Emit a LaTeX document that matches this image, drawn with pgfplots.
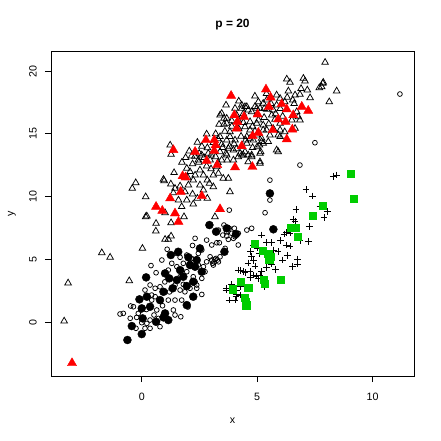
\documentclass[border=0pt]{standalone}
\usepackage{fontspec}
\setmainfont{Liberation Sans}
\usepackage{pgfplots}
\pgfplotsset{compat=1.18}
\definecolor{rgreen}{RGB}{0,205,0}
\begin{document}
\begin{tikzpicture}
\path[use as bounding box] (-51bp,-65bp) rectangle (390bp,376bp);
\begin{axis}[
  at={(0,0)}, anchor=south west,
  scale only axis, width=363bp, height=325bp,
  xmin=-3.93, xmax=11.79, ymin=-4.3, ymax=21.6,
  xtick={0,5,10}, ytick={0,5,10,15,20},
  tick align=outside, major tick length=6bp,
  xtick pos=left, ytick pos=left,
  axis line style={line width=0.75bp},
  every tick/.style={black, line width=0.75bp},
  /pgf/number format/assume math mode=true,
  tick label style={font=\fontsize{10.7}{12}\selectfont},
  xticklabel style={anchor=center, yshift=-14.5bp},
  yticklabel style={anchor=center, xshift=-12bp, rotate=90},
  xlabel={x}, ylabel={y},
  label style={font=\fontsize{10.7}{12}\selectfont},
  xlabel style={at={(axis description cs:0.5,-0.1385)}, anchor=center},
  ylabel style={at={(axis description cs:-0.1074,0.5)}, anchor=center},
  title={p = 20},
  every axis title shift=0pt,
  title style={at={(axis description cs:0.5,1.08)}, anchor=center, font=\bfseries\fontsize{12}{14}\selectfont},
  only marks,
]
% open triangles
\addplot[mark=triangle, mark size=3.8bp, mark options={black, line width=0.75bp}] coordinates {
(-3.36,0.08) (-3.19,3.11) (-1.73,5.52) (-1.37,5.16) (0.03,5.87) (-0.26,11.10) (-0.41,10.65) (0.17,9.98) (0.97,11.26) (0.17,8.39)
(0.61,7.25) (1.01,6.59) (1.15,6.59) (1.27,6.85) (1.37,10.30) (1.27,7.91) (1.01,8.71) (-0.54,3.29)
(3.65,17.29) (3.39,16.49) (3.46,16.63) (3.35,15.75) (3.56,15.75) (3.68,16.23) (3.90,16.04) (4.04,17.03) (4.11,16.49) (4.18,16.10)
(2.81,14.98) (2.41,14.32) (1.23,14.10) (1.27,13.36) (2.06,13.63) (2.49,13.44) (2.84,13.89) (2.88,13.44) (3.20,13.17) (3.46,14.16)
(3.68,13.31) (3.97,12.91) (1.74,12.73) (2.47,12.73) (3.39,13.57) (3.82,14.77) (4.04,14.50)
(7.94,20.69) (6.28,19.36) (6.42,19.10) (7.00,19.42) (7.07,19.20) (7.17,18.49) (7.69,18.67) (7.84,19.02) (8.44,18.41) (7.29,17.87)
(8.12,17.55) (6.35,18.41) (6.64,18.09) (6.85,18.14) (6.54,17.69) (5.99,17.82) (6.19,17.55) (5.84,18.09) (6.78,16.36) (6.85,16.10)
(6.71,16.76) (5.91,14.90) (5.99,15.30) (6.19,15.16) (6.64,15.43) (5.91,13.57)
(5.15,13.57) (5.00,13.97) (5.26,14.24) (5.19,14.64) (4.69,14.64) (4.55,14.24) (4.76,13.31) (4.40,13.31) (4.33,17.29) (4.55,17.16)
(4.90,17.16) (4.76,16.76) (5.05,17.55) (5.26,17.43) (5.41,17.69) (5.12,17.03) (5.84,17.29) (5.70,16.89) (4.69,15.96) (4.98,15.83)
(5.26,15.70) (5.99,15.83) (5.26,15.30) (5.55,14.90) (5.12,12.77) (4.61,12.77) (4.26,13.44)
(2.16,13.23) (2.45,12.91) (2.60,13.31) (2.96,12.91) (3.25,12.37) (3.46,12.91) (3.65,13.44) (3.75,13.84) (3.97,13.71) (4.18,13.17)
(4.33,13.31) (4.47,13.57) (4.61,13.31) (4.76,13.17) (5.12,13.44) (5.12,12.65) (4.98,14.90) (5.19,14.37) (5.48,14.37) (5.84,13.71)
(5.99,14.77) (5.05,16.10) (5.41,15.30) (5.63,16.49) (5.77,16.15) (4.47,15.56) (4.69,15.30) (4.55,14.77) (4.83,14.50) (3.39,14.77)
(3.82,15.16) (3.68,14.50) (3.56,16.23) (3.68,15.83) (4.33,17.03) (4.47,17.16) (4.61,16.89) (4.98,17.03) (5.41,16.95)
(1.95,12.25) (2.09,11.98) (2.31,11.71) (2.52,12.11) (2.67,11.71) (2.84,11.31) (3.10,11.71) (3.32,11.85) (2.81,12.43)
(0.94,11.37) (1.26,11.00) (1.44,10.65) (1.66,10.84) (1.87,10.38) (2.02,10.92) (2.23,11.31) (2.52,10.92) (2.67,10.52) (2.93,11.05)
(3.10,10.78) (3.53,11.45) (3.75,11.45) (3.82,10.38) (1.59,9.72) (1.73,9.19) (1.95,9.72) (2.23,9.40) (2.41,9.86) (2.84,9.86)
(1.83,8.39) (0.22,8.45) (0.62,7.86) (3.17,8.39)
(4.2,15.4) (4.4,15.9) (3.9,15.6) (4.9,15.2) (5.3,16.3) (5.0,16.6) (4.3,14.8) (3.6,15.2) (3.1,14.3) (3.3,14.6)
(3.2,15.0) (4.0,14.2) (4.8,13.9) (5.5,15.8) (5.7,15.4) (6.1,16.4) (6.0,17.0) (6.6,17.4) (3.7,12.9) (3.0,13.3)
(2.6,14.0) (2.2,12.6) (1.9,13.1) (5.4,18.2) (5.6,17.4) (4.9,18.0) (7.86,19.10) (7.79,18.75)
(3.8,14.0) (4.5,14.5) (4.1,13.8) (4.4,16.6) (3.5,13.9) (5.1,14.1) (5.3,17.0) (6.3,17.9) (6.9,18.6) (5.8,16.6)
(2.7,13.1) (3.3,12.7) (2.3,13.2) (4.8,15.6) (4.2,17.6) (6.5,16.1) (3.0,12.2) (2.2,10.2) (2.0,11.5) (1.4,11.9)
};
% open circles
\addplot[mark=o, mark size=2.4bp, mark options={black, line width=0.75bp}] coordinates {
(11.18,18.17) (7.50,14.29) (6.85,12.51) (5.55,11.31) (5.55,9.72) (5.34,8.71) (3.79,8.92) (4.01,7.47) (4.76,7.47) (4.55,7.33)
(3.56,7.73) (3.90,7.07) (3.51,6.93) (3.97,6.67) (3.75,6.59) (4.18,6.14) (3.61,5.87) (3.39,5.20) (3.32,7.33) (3.68,7.20)
(4.18,7.07) (4.04,6.80) (3.25,6.32) (3.03,4.94) (3.13,4.80) (3.22,5.07) (3.79,7.47) (3.03,6.14) (3.68,6.85)
(2.31,6.67) (2.96,5.20) (3.17,5.00) (3.07,4.68) (2.81,4.80) (3.32,4.80) (1.66,5.16) (0.62,3.93) (-0.48,1.28) (-0.94,0.64)
(-0.80,0.69) (-0.15,0.69) (-0.22,0.37) (0.00,-0.05) (0.22,-0.11) (0.36,-0.50) (0.36,0.16) (0.53,0.56) (0.72,0.29) (1.37,0.96)
(1.44,0.56) (1.69,0.42) (0.79,-0.37) (0.14,-0.50) (-0.25,-0.50) (-0.04,0.96) (0.43,1.75) (0.58,2.02) (0.65,0.96) (-0.36,1.22)
(0.87,4.94) (1.30,4.68) (1.52,4.41) (1.73,4.14) (1.95,4.01) (2.23,3.61) (1.66,3.61) (1.15,4.14) (1.44,2.95) (1.66,2.55)
(1.87,2.41) (2.09,2.69) (2.38,2.95) (0.58,2.69) (0.36,2.95) (0.14,2.55) (0.43,2.15) (0.79,2.81) (1.15,1.75) (1.44,1.75)
(1.73,1.75) (2.38,2.69) (2.31,3.21)
(1.95,5.34) (2.16,5.07) (2.45,5.47) (2.60,5.74) (1.52,5.47) (1.80,4.68) (2.09,4.68) (2.45,4.54) (2.67,4.41) (2.74,4.01)
(2.60,3.48) (2.81,6.53) (3.36,6.32) (3.27,4.94) (3.10,4.54)
(1.0,3.2) (1.2,2.4) (0.9,1.3) (1.8,3.0) (2.0,1.2) (2.6,2.2) (0.2,1.0) (-0.5,0.3) (1.1,5.8) (2.2,6.1) (0.4,4.5)
};
% plus
\addplot[mark=+, mark size=3.4bp, mark options={black, line width=0.75bp}] coordinates {
(8.29,11.63) (8.44,11.71) (7.11,10.57) (7.40,10.04) (7.72,9.24) (8.03,8.79) (7.89,8.34) (6.68,8.98) (6.56,8.18) (6.64,7.99)
(7.25,7.59) (6.16,7.01) (6.02,6.48) (5.19,6.93) (5.63,6.32) (5.41,6.32) (6.28,6.14) (6.42,6.06) (6.85,6.53) (7.21,6.40)
(4.83,6.14) (5.70,5.74) (5.09,5.47) (4.76,5.20) (4.83,4.89) (6.10,4.94) (6.75,5.02) (6.54,4.41) (5.63,4.62) (5.41,4.36)
(4.90,4.46) (5.19,4.01) (4.18,4.14) (4.47,3.93) (4.83,3.75) (5.05,3.48) (4.69,3.56) (3.65,2.55) (4.11,2.49) (4.26,2.81)
(4.29,2.15) (3.79,1.75) (4.04,1.75) (4.08,2.02) (5.12,3.75) (6.28,7.12) (6.42,7.09) (4.72,5.60) (4.29,4.09) (4.95,3.67)
(6.74,4.62) (4.11,2.23) (3.68,2.69) (4.40,4.01) (4.69,4.01)
(5.9,5.6) (6.3,5.3) (5.0,5.9) (5.8,4.2) (4.6,4.7) (5.3,2.8) (3.9,3.0)
};
% red filled triangles
\addplot[mark=triangle*, mark size=5.3bp, mark options={red, fill=red}] coordinates {
(-3.02,-3.27) (3.87,18.03) (5.38,18.54) (5.58,17.90) (5.51,17.16) (4.01,16.49) (4.43,16.36) (4.14,15.96) (5.02,16.55) (6.06,17.37)
(6.28,16.95) (6.56,16.49) (6.93,17.16) (7.21,16.84) (5.91,16.15) (6.23,15.96) (5.67,15.30) (6.52,15.35) (6.28,14.56) (5.05,15.09)
(4.80,14.82) (4.11,15.43) (4.33,14.02) (2.78,14.50) (3.14,14.50) (3.20,14.10) (3.14,13.65) (2.31,13.57) (1.37,13.71) (2.81,12.85)
(3.27,12.51) (4.04,12.33) (4.79,12.37) (1.77,11.63) (1.90,11.53) (1.69,10.38) (2.60,10.04) (1.23,9.86) (0.62,9.19) (0.89,8.87)
(1.44,8.66) (1.59,7.99) (3.39,9.00)
};
% black filled circles
\addplot[mark=*, mark size=4bp, mark options={black, fill=black}] coordinates {
(2.93,7.73) (3.22,7.20) (3.68,7.47) (4.08,7.01) (5.70,7.39) (3.58,5.60) (2.52,5.87) (1.58,5.60) (1.26,5.34) (2.02,5.16)
(2.38,4.94) (2.09,4.54) (2.31,4.41) (2.60,4.01) (1.66,4.14) (1.01,3.88) (1.19,3.48) (1.52,3.35) (1.80,3.61) (0.19,3.56)
(1.34,2.69) (1.95,2.87) (2.23,3.21) (2.23,2.02) (0.94,2.41) (0.79,1.75) (0.22,2.02) (-0.10,1.81) (0.00,1.09) (0.36,1.22)
(1.01,0.69) (1.15,0.16) (0.94,0.37) (0.62,0.02) (0.04,0.29) (1.95,1.35) (-0.43,-0.32) (0.00,-0.96) (-0.62,-1.43) (5.55,10.25)
};
% green squares
\addplot[mark=square*, mark size=3.6bp, mark options={rgreen, fill=rgreen}] coordinates {
(9.05,11.85) (9.19,9.80) (7.84,9.27) (7.39,8.45) (6.46,7.55) (6.68,7.55) (6.74,6.80) (4.90,6.27) (5.24,5.68) (5.48,5.47)
(5.60,5.20) (5.52,5.00) (6.03,3.40) (5.29,3.40) (5.34,3.03) (4.61,2.76) (4.29,3.21) (3.94,2.61) (4.47,1.97) (4.52,1.35)
(4.50,1.65)
};
\end{axis}
\end{tikzpicture}
\end{document}
